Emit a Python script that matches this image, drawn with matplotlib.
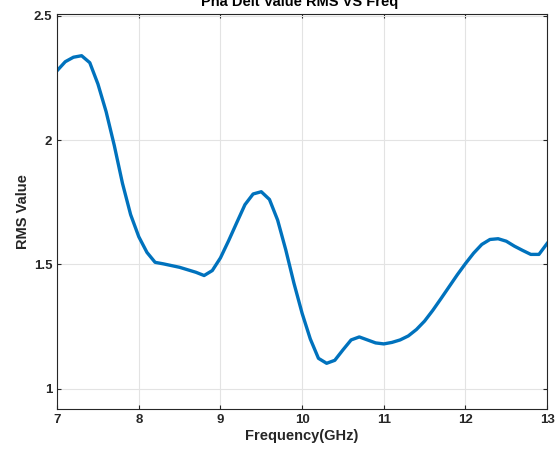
import numpy as np
import matplotlib.pyplot as plt

plt.rcParams['font.family'] = ['Liberation Sans', 'DejaVu Sans']

freq = np.round(np.arange(7.0, 13.01, 0.1), 1)
rms = [2.279, 2.315, 2.333, 2.339, 2.311, 2.225, 2.114, 1.978, 1.826, 1.700,
       1.611, 1.548, 1.508, 1.502, 1.495, 1.488, 1.478, 1.468, 1.455, 1.475,
       1.526, 1.595, 1.668, 1.740, 1.783, 1.792, 1.761, 1.678, 1.558, 1.424,
       1.303, 1.200, 1.122, 1.102, 1.114, 1.156, 1.196, 1.208, 1.196, 1.184,
       1.180, 1.186, 1.196, 1.212, 1.238, 1.272, 1.315, 1.362, 1.410, 1.458,
       1.503, 1.545, 1.580, 1.600, 1.603, 1.593, 1.573, 1.556, 1.540, 1.540,
       1.584]
xticks = [7, 8, 9, 10, 11, 12, 13]
yticks = [1, 1.5, 2, 2.5]

fig = plt.figure(figsize=(5.6, 4.5), dpi=100)
ax = fig.add_axes([0.102, 0.091, 0.875, 0.878])

ax.plot(freq, rms, color='#0072BD', linewidth=2.4)

ax.set_xlim(7, 13)
ax.set_ylim(0.918, 2.507)
ax.set_xticks(xticks)
ax.set_yticks(yticks)
ax.set_yticklabels(['1', '1.5', '2', '2.5'])
ax.grid(True, color='#e3e3e3', linewidth=0.8)
ax.set_axisbelow(True)

for side in ax.spines.values():
    side.set_color('#262626')
    side.set_linewidth(0.8)
ax.tick_params(direction='in', top=True, right=True, length=3, width=0.8,
               colors='#262626', labelsize=9.5)
for lbl in ax.get_xticklabels() + ax.get_yticklabels():
    lbl.set_fontweight('bold')

ax.set_xlabel('Frequency(GHz)', fontsize=10.5, fontweight='bold', color='#262626', labelpad=2)
ax.set_ylabel('RMS Value', fontsize=10.5, fontweight='bold', color='#262626', labelpad=3)

# title sits at the very top edge of the figure
fig.text(0.535, 1 - 6 / 450, 'Pha Delt Value RMS VS Freq', ha='center', va='baseline',
         fontsize=10.5, fontweight='bold', color='black')

fig.savefig('out.png', dpi=100)
